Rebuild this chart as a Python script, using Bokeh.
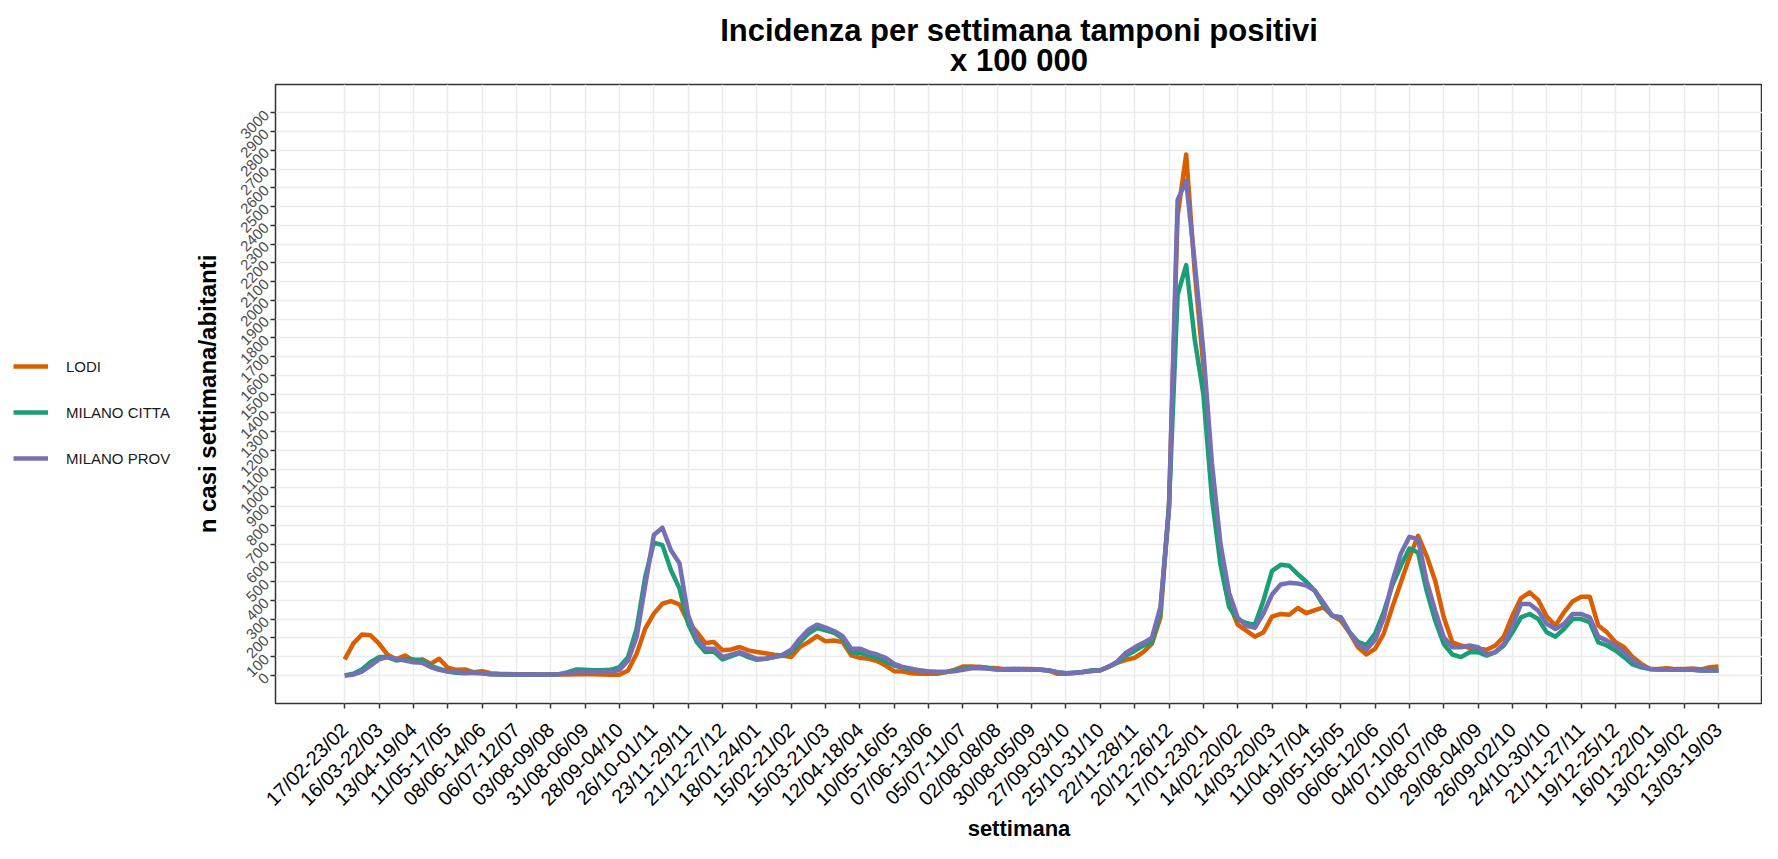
import math
from bokeh.plotting import figure
from bokeh.layouts import row
from bokeh.models import FixedTicker, Legend, LegendItem, Range1d, Title
from bokeh.embed import file_html
from bokeh.resources import INLINE

weeks = list(range(161))

lodi = [
    86, 170, 219, 214, 170, 110, 86, 107, 80, 86,
    62, 89, 41, 30, 32, 18, 23, 12, 9, 8,
    7, 6, 6, 5, 5, 5, 5, 6, 6, 6,
    5, 4, 4, 27, 116, 250, 330, 383, 397, 378,
    285, 232, 173, 178, 134, 139, 152, 134, 125, 119,
    111, 107, 98, 152, 178, 210, 182, 187, 178, 107,
    94, 89, 77, 53, 23, 21, 12, 9, 9, 9,
    18, 30, 48, 48, 45, 41, 39, 32, 30, 34,
    34, 32, 27, 9, 9, 13, 19, 24, 28, 47,
    69, 84, 94, 125, 168, 309, 907, 2450, 2778, 2150,
    1650, 1019, 645, 383, 271, 239, 207, 230, 314, 328,
    324, 360, 332, 349, 363, 319, 293, 230, 151, 112,
    142, 222, 363, 496, 629, 745, 638, 505, 310, 177,
    160, 147, 142, 137, 160, 207, 319, 413, 443, 402,
    314, 266, 337, 395, 420, 420, 266, 230, 177, 151,
    98, 62, 35, 35, 39, 34, 34, 37, 32, 44,
    48]

milano_citta = [
    0, 9, 32, 71, 98, 98, 80, 86, 86, 80,
    53, 36, 21, 14, 12, 14, 12, 6, 5, 4,
    4, 4, 4, 4, 4, 6, 18, 32, 30, 28,
    28, 30, 45, 98, 250, 526, 708, 695, 561, 463,
    276, 178, 125, 128, 86, 103, 119, 98, 84, 89,
    98, 107, 125, 178, 223, 253, 241, 228, 196, 125,
    119, 107, 94, 75, 53, 41, 32, 27, 21, 18,
    18, 27, 36, 41, 45, 39, 32, 30, 32, 32,
    30, 30, 27, 18, 12, 15, 19, 28, 28, 47,
    69, 107, 131, 159, 178, 337, 907, 2029, 2188, 1790,
    1500, 945, 589, 365, 299, 280, 270, 400, 558, 590,
    585, 540, 500, 450, 373, 319, 310, 232, 180, 162,
    223, 337, 480, 585, 677, 656, 452, 293, 168, 112,
    98, 124, 124, 106, 124, 160, 230, 310, 328, 301,
    230, 207, 248, 301, 301, 284, 177, 160, 133, 98,
    59, 44, 35, 32, 32, 30, 30, 30, 27, 27,
    27]

milano_prov = [
    0, 4, 21, 53, 86, 98, 89, 80, 71, 68,
    45, 30, 21, 18, 14, 14, 12, 6, 5, 5,
    5, 5, 5, 5, 5, 8, 14, 18, 18, 18,
    18, 20, 30, 80, 205, 481, 749, 788, 668, 597,
    321, 200, 143, 143, 98, 111, 125, 107, 89, 89,
    98, 111, 137, 196, 244, 271, 255, 237, 209, 143,
    143, 125, 112, 94, 62, 45, 36, 27, 21, 18,
    18, 23, 30, 39, 39, 36, 32, 34, 36, 34,
    32, 30, 27, 18, 12, 15, 19, 24, 28, 47,
    75, 122, 150, 174, 200, 365, 888, 2535, 2637, 2200,
    1730, 1132, 701, 440, 309, 266, 254, 330, 432, 485,
    494, 490, 480, 452, 388, 318, 311, 232, 168, 138,
    190, 305, 500, 650, 739, 727, 505, 346, 204, 151,
    151, 160, 151, 112, 124, 168, 266, 381, 381, 346,
    275, 248, 275, 328, 328, 310, 207, 186, 160, 124,
    80, 53, 35, 32, 32, 30, 30, 30, 27, 27,
    27]

tick_weeks = list(range(0, 161, 4))
tick_labels = [
    "17/02-23/02", "16/03-22/03", "13/04-19/04", "11/05-17/05", "08/06-14/06",
    "06/07-12/07", "03/08-09/08", "31/08-06/09", "28/09-04/10", "26/10-01/11",
    "23/11-29/11", "21/12-27/12", "18/01-24/01", "15/02-21/02", "15/03-21/03",
    "12/04-18/04", "10/05-16/05", "07/06-13/06", "05/07-11/07", "02/08-08/08",
    "30/08-05/09", "27/09-03/10", "25/10-31/10", "22/11-28/11", "20/12-26/12",
    "17/01-23/01", "14/02-20/02", "14/03-20/03", "11/04-17/04", "09/05-15/05",
    "06/06-12/06", "04/07-10/07", "01/08-07/08", "29/08-04/09", "26/09-02/10",
    "24/10-30/10", "21/11-27/11", "19/12-25/12", "16/01-22/01", "13/02-19/02",
    "13/03-19/03"]
y_ticks = list(range(0, 3001, 100))

series_names = ["LODI", "MILANO CITTA", "MILANO PROV"]
series_colors = ["#D95F02", "#1B9E77", "#7570B3"]
series_values = [lodi, milano_citta, milano_prov]

title_line1 = "Incidenza per settimana tamponi positivi"
title_line2 = "x 100 000"
x_title = "settimana"
y_title = "n casi settimana/abitanti"

FONT = "Liberation Sans"
LEG_W = 190
H = 843

# ---------------- legend panel (left) ----------------
lf = figure(width=LEG_W, height=H, output_backend="svg", toolbar_location=None,
            x_range=Range1d(-1000, -999), y_range=Range1d(-1000, -999),
            x_axis_location=None, y_axis_location=None,
            min_border=0, outline_line_color=None,
            background_fill_color="white", border_fill_color="white")
lf.grid.visible = False
leg_renderers = []
for ys, col in zip(series_values, series_colors):
    leg_renderers.append(lf.line(weeks, ys, line_color=col, line_width=4.5))
legend = Legend(items=[LegendItem(label=n, renderers=[r]) for n, r in zip(series_names, leg_renderers)],
                location=(13, 235), orientation="vertical",
                glyph_width=35, glyph_height=20, label_height=20, spacing=26,
                label_standoff=18, padding=0, margin=0,
                border_line_color=None, background_fill_alpha=0,
                label_text_font=FONT, label_text_font_size="15px",
                label_text_color="#1A1A1A")
lf.add_layout(legend)

# ---------------- main plot ----------------
p = figure(width=1778 - 16 - LEG_W, height=H, output_backend="svg", toolbar_location=None,
           x_range=Range1d(-8.06, 165.12), y_range=Range1d(-149.3, 3150.8),
           min_border_left=273 - LEG_W, min_border_right=0, min_border_top=84,
           min_border_bottom=140, background_fill_color="white",
           border_fill_color="white")

p.outline_line_color = "#333333"
p.outline_line_width = 1.5

p.xaxis.ticker = FixedTicker(ticks=tick_weeks)
p.xaxis.major_label_overrides = {w: lab for w, lab in zip(tick_weeks, tick_labels)}
p.xaxis.major_label_orientation = math.pi / 4
p.xaxis.major_label_text_color = "black"
p.xaxis.major_label_text_font_size = "20px"
p.xaxis.major_label_standoff = 18
p.xaxis.axis_label = x_title
p.xaxis.axis_label_standoff = -5

p.yaxis.ticker = FixedTicker(ticks=y_ticks)
p.yaxis.major_label_orientation = math.pi / 4
p.yaxis.major_label_text_color = "#4D4D4D"
p.yaxis.major_label_text_font_size = "15px"
p.yaxis.major_label_standoff = 4
p.yaxis.axis_label = y_title
p.yaxis.axis_label_standoff = 12

for ax in (p.xaxis, p.yaxis):
    ax.axis_line_color = None
    ax.major_tick_line_color = "#333333"
    ax.major_tick_line_width = 1.5
    ax.major_tick_out = 5
    ax.major_tick_in = 0
    ax.minor_tick_out = 0
    ax.minor_tick_in = 0
    ax.major_label_text_font = FONT
    ax.axis_label_text_font = FONT
    ax.axis_label_text_font_style = "bold"
    ax.axis_label_text_color = "black"
p.xaxis.axis_label_text_font_size = "22px"
p.yaxis.axis_label_text_font_size = "24px"

p.xgrid.ticker = FixedTicker(ticks=tick_weeks)
p.ygrid.ticker = FixedTicker(ticks=y_ticks)
for g in (p.xgrid, p.ygrid):
    g.grid_line_color = "#EBEBEB"
    g.grid_line_width = 1.5

for ys, col in zip(series_values, series_colors):
    p.line(weeks, ys, line_color=col, line_width=4.5, line_join="round")

p.add_layout(Title(text=title_line1 + "\n" + title_line2, align="center",
                   text_align="center", text_font=FONT, text_font_size="31px",
                   text_font_style="bold", text_color="black",
                   text_line_height=0.85, standoff=14), "above")

layout = row(lf, p)
open("out.html", "w").write(file_html(layout, INLINE))
